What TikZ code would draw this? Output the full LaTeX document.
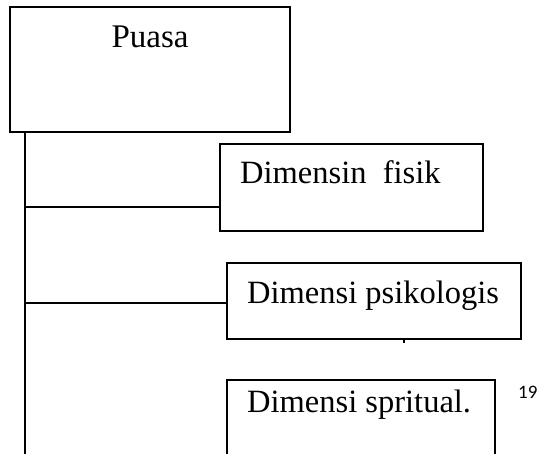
\documentclass[tikz,border=0pt]{standalone}
\usepackage{fontspec}
\setmainfont{Liberation Serif}
\newfontfamily\pagenumfont[Numbers=Lining]{Carlito}
\begin{document}
\begin{tikzpicture}[x=1pt,y=-1pt,
  boxstyle/.style={draw=black,line width=1.8pt,rectangle,inner sep=0pt},
  linkstyle/.style={draw=black,line width=1.8pt},
  labelstyle/.style={anchor=base west,inner sep=0pt,font=\fontsize{32.5}{36}\selectfont}]
\useasboundingbox (0,0) rectangle (537,453);
\clip (0,0) rectangle (537,453);
% boxes
\node[boxstyle,minimum width=280pt,minimum height=125pt] (puasa) at (150,69.5) {};
\node[boxstyle,minimum width=263pt,minimum height=87pt] (b1) at (351.5,187.5) {};
\node[boxstyle,minimum width=294pt,minimum height=76pt] (b2) at (374,301) {};
\node[boxstyle,minimum width=268pt,minimum height=110pt] (b3) at (361,435) {};
% texts
\node[anchor=base,inner sep=0pt,font=\fontsize{33}{36}\selectfont] (tp) at (150,47) {Puasa};
\node[labelstyle] (t1) at (240,183) {Dimensin\ \ fisik};
\node[labelstyle] (t2) at (247,303) {Dimensi psikologis};
\node[labelstyle] (t3) at (247,412) {Dimensi spritual.};
\node[anchor=west,inner sep=0pt,font=\pagenumfont\fontsize{19}{21}\selectfont] (pg) at (518,392) {19};
% trunk and branches
\coordinate (top) at (25,132);
\coordinate (bot) at (25,470);
\coordinate (j1) at (25,207);
\coordinate (j2) at (25,303);
\draw[linkstyle] (top) -- (bot);
\draw[linkstyle] (j1) -- (j1 -| b1.west);
\draw[linkstyle] (j2) -- (j2 -| b2.west);
% small tick under box 2
\coordinate (tk) at (404,339);
\draw[line width=2.5pt] (tk) -- ++(0,4);
\end{tikzpicture}
\end{document}
